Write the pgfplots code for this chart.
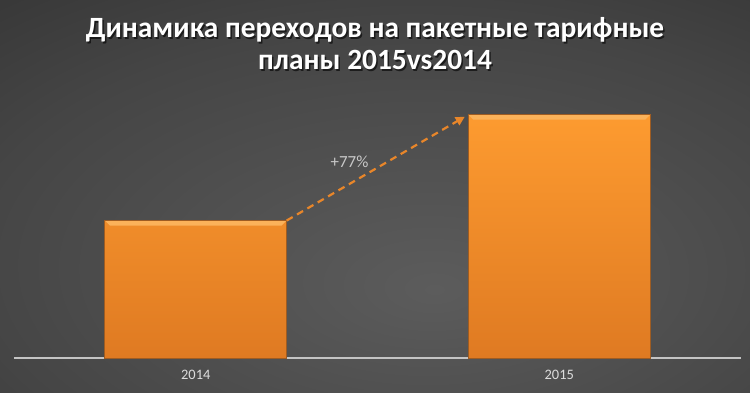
\documentclass[border=0pt]{standalone}
\usepackage{fontspec}
\setmainfont{Carlito}
\usepackage{pgfplots}
\pgfplotsset{compat=1.18}
\usetikzlibrary{arrows.meta}
\definecolor{bgIn}{HTML}{5C5C5C}
\definecolor{bgMid}{HTML}{454545}
\definecolor{bgOut}{HTML}{242424}
\definecolor{barTop}{HTML}{FD9B30}
\definecolor{barBot}{HTML}{DF7A22}
\definecolor{barEdge}{HTML}{9E5C22}
\definecolor{barLight}{HTML}{FBB25A}
\definecolor{arrowC}{HTML}{E8862A}
\definecolor{axisGray}{HTML}{C4C4C4}
\definecolor{tickGray}{HTML}{DCDCDC}
\definecolor{lblGray}{HTML}{C8C8C8}
\pgfdeclareradialshading{bgshade}{\pgfpoint{4bp}{-12bp}}{color(0bp)=(bgIn); color(30bp)=(bgMid); color(62bp)=(bgOut); color(100bp)=(bgOut)}
\begin{document}
\begin{tikzpicture}[x=1bp,y=1bp]
\useasboundingbox (0,0) rectangle (750,392);
\shade[shading=bgshade] (0,0) rectangle (750,392);
\begin{axis}[
  at={(14bp,34bp)}, anchor=south west,
  width=727bp, height=268bp, scale only axis,
  xmin=-0.5, xmax=1.5, ymin=0, ymax=195,
  axis x line=bottom, axis y line=none,
  x axis line style={draw=axisGray, line width=1.6bp, -},
  xtick={0,1}, xticklabels={2014,2015},
  major tick length=0pt,
  xticklabel style={font=\fontsize{14.5}{16}\selectfont, text=tickGray, yshift=-9bp},
  ybar, bar width=0.5,
  clip=false,
]
\addplot[ybar, draw=barEdge, line width=0.8bp, top color=barTop, bottom color=barBot] coordinates {(0,100) (1,177)};
\fill[barLight] (axis cs:-0.25,100) -- (axis cs:0.25,100) -- ([xshift=-5bp,yshift=-5bp]axis cs:0.25,100) -- ([xshift=5bp,yshift=-5bp]axis cs:-0.25,100) -- cycle;
\fill[barLight] (axis cs:0.75,177) -- (axis cs:1.25,177) -- ([xshift=-5bp,yshift=-5bp]axis cs:1.25,177) -- ([xshift=5bp,yshift=-5bp]axis cs:0.75,177) -- cycle;
\draw[barEdge, line width=0.8bp] (axis cs:-0.25,100) -- (axis cs:0.25,100);
\draw[barEdge, line width=0.8bp] (axis cs:0.75,177) -- (axis cs:1.25,177);
\addplot[sharp plot, arrowC, line width=2.2bp, dash pattern=on 7bp off 5bp, -{Triangle[length=9bp,width=9bp]}] coordinates {(0.25,100) (0.74,175.5)};
\node[text=lblGray, font=\fontsize{17}{19}\selectfont] at (axis cs:0.423,143) {+77\%};
\end{axis}
\node[text=black, opacity=0.6, align=center, font=\bfseries\fontsize{29.5}{32}\selectfont] at (376.5,346.5) {Динамика переходов на пакетные тарифные\\планы 2015vs2014};
\node[text=white, align=center, font=\bfseries\fontsize{29.5}{32}\selectfont] at (375,348) {Динамика переходов на пакетные тарифные\\планы 2015vs2014};
\end{tikzpicture}
\end{document}
